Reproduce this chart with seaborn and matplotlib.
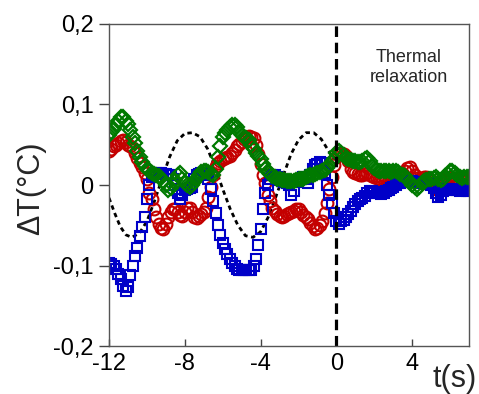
import numpy as np
import pandas as pd
import matplotlib
matplotlib.use("Agg")
import matplotlib.pyplot as plt
import seaborn as sns

# grille d'echantillonnage (s) : -12 -> 7 par pas de 0.125 s
t = np.round(np.arange(-12.0, 7.0625, 0.125), 3)

# une ligne = une seconde (8 valeurs)
dT_red = [
    0.042, 0.045, 0.048, 0.050, 0.052, 0.055, 0.056, 0.053,
    0.050, 0.049, 0.046, 0.040, 0.033, 0.027, 0.022, 0.015,
    0.007, -0.010, -0.018, -0.030, -0.040, -0.048, -0.053, -0.055,
    -0.048, -0.040, -0.034, -0.030, -0.030, -0.034, -0.037, -0.038,
    -0.033, -0.028, -0.029, -0.034, -0.040, -0.041, -0.038, -0.036,
    -0.034, -0.028, -0.015, -0.002, 0.012, 0.023, 0.027, 0.030,
    0.032, 0.033, 0.035, 0.036, 0.040, 0.044, 0.048, 0.051,
    0.054, 0.057, 0.060, 0.061, 0.060, 0.058, 0.050, 0.038,
    0.026, 0.012, 0.002, -0.012, -0.020, -0.028, -0.032, -0.036,
    -0.039, -0.040, -0.038, -0.036, -0.035, -0.034, -0.032, -0.030,
    -0.030, -0.033, -0.037, -0.040, -0.042, -0.047, -0.051, -0.055,
    -0.053, -0.050, -0.045, -0.035, -0.022, -0.005, 0.010, 0.025,
    0.035, 0.039, 0.040, 0.039, 0.036, 0.030, 0.020, 0.016,
    0.015, 0.014, 0.013, 0.012, 0.014, 0.015, 0.013, 0.011,
    0.010, 0.009, 0.008, 0.010, 0.011, 0.009, 0.008, 0.009,
    0.010, 0.011, 0.012, 0.013, 0.014, 0.017, 0.021, 0.022,
    0.018, 0.012, 0.009, 0.008, 0.009, 0.010, 0.010, 0.008,
    0.006, 0.002, -0.005, 0.000, 0.005, 0.007, 0.008, 0.009,
    0.010, 0.009, 0.008, 0.009, 0.010, 0.009, 0.008, 0.008,
    0.009]

dT_blue = [
    -0.097, -0.098, -0.100, -0.104, -0.110, -0.117, -0.125, -0.132,
    -0.127, -0.112, -0.100, -0.088, -0.078, -0.063, -0.052, -0.040,
    -0.018, 0.000, 0.010, 0.014, 0.015, 0.015, 0.015, 0.014,
    0.014, 0.013, 0.012, 0.008, 0.000, -0.010, -0.017, -0.012,
    -0.006, -0.005, -0.004, -0.002, 0.008, 0.012, 0.014, 0.015,
    0.015, 0.013, 0.008, -0.005, -0.020, -0.035, -0.050, -0.062,
    -0.072, -0.080, -0.086, -0.092, -0.097, -0.101, -0.104, -0.105,
    -0.106, -0.106, -0.106, -0.105, -0.105, -0.100, -0.092, -0.075,
    -0.055, -0.030, -0.010, 0.000, 0.008, 0.012, 0.013, 0.010,
    0.006, 0.005, 0.004, 0.003, 0.000, -0.012, -0.008, 0.004,
    0.006, 0.008, 0.010, 0.008, 0.002, 0.012, 0.020, 0.025,
    0.026, 0.028, 0.027, 0.015, 0.000, -0.012, -0.022, -0.035,
    -0.045, -0.048, -0.045, -0.043, -0.040, -0.036, -0.032, -0.027,
    -0.024, -0.020, -0.018, -0.016, -0.014, -0.010, -0.008, -0.008,
    -0.009, -0.010, -0.010, -0.011, -0.010, -0.008, -0.006, -0.004,
    -0.002, 0.000, 0.002, 0.003, 0.004, 0.005, 0.004, 0.005,
    0.005, 0.004, 0.004, 0.003, 0.004, 0.004, 0.003, 0.002,
    0.000, -0.004, -0.010, -0.015, -0.012, -0.007, -0.005, -0.005,
    -0.006, -0.006, -0.005, -0.006, -0.007, -0.006, -0.006, -0.007,
    -0.007]

dT_green = [
    0.062, 0.066, 0.070, 0.075, 0.080, 0.084, 0.084, 0.080,
    0.076, 0.068, 0.060, 0.052, 0.042, 0.035, 0.028, 0.023,
    0.020, 0.017, 0.015, 0.014, 0.012, 0.011, 0.009, 0.005,
    0.000, -0.006, -0.004, 0.000, 0.006, 0.012, 0.015, 0.008,
    0.002, 0.000, -0.002, 0.000, 0.004, 0.009, 0.013, 0.016,
    0.018, 0.018, 0.016, 0.014, 0.013, 0.020, 0.035, 0.048,
    0.060, 0.064, 0.068, 0.072, 0.074, 0.075, 0.072, 0.066,
    0.062, 0.060, 0.058, 0.056, 0.050, 0.045, 0.040, 0.036,
    0.032, 0.026, 0.020, 0.017, 0.014, 0.011, 0.010, 0.008,
    0.007, 0.006, 0.006, 0.005, 0.005, 0.005, 0.005, 0.006,
    0.007, 0.008, 0.008, 0.010, 0.011, 0.012, 0.013, 0.014,
    0.015, 0.016, 0.018, 0.019, 0.021, 0.025, 0.028, 0.032,
    0.040, 0.042, 0.040, 0.037, 0.034, 0.032, 0.031, 0.030,
    0.030, 0.029, 0.028, 0.030, 0.032, 0.034, 0.030, 0.024,
    0.021, 0.019, 0.018, 0.018, 0.017, 0.018, 0.017, 0.016,
    0.017, 0.018, 0.016, 0.014, 0.012, 0.011, 0.008, 0.004,
    0.000, -0.003, -0.005, -0.002, 0.002, 0.005, 0.006, 0.007,
    0.008, 0.009, 0.010, 0.008, 0.006, 0.008, 0.011, 0.014,
    0.017, 0.018, 0.015, 0.012, 0.010, 0.009, 0.010, 0.010,
    0.010]

# excitation (pointilles)
t_exc = [-12.0, -11.7, -11.4, -11.1, -10.8, -10.4, -10.0, -9.6, -9.2, -8.8,
         -8.4, -8.0, -7.6, -7.2, -6.8, -6.4, -6.0, -5.6, -5.2, -4.8,
         -4.4, -4.0, -3.6, -3.2, -2.8, -2.4, -2.0, -1.6, -1.2, -0.8,
         -0.4, -0.15]
exc = [-0.016, -0.035, -0.052, -0.062, -0.065, -0.060, -0.045, -0.020, 0.008, 0.035,
       0.055, 0.064, 0.065, 0.060, 0.045, 0.022, -0.005, -0.030, -0.050, -0.063,
       -0.065, -0.058, -0.040, -0.015, 0.012, 0.038, 0.056, 0.065, 0.065, 0.057,
       0.042, 0.032]

xticks = [-12, -8, -4, 0, 4]
yticks = [-0.2, -0.1, 0, 0.1, 0.2]
ytick_labels = ['-0,2', '-0,1', '0', '0,1', '0,2']

sns.set_style("white")
plt.rcParams['font.family'] = ['Liberation Sans', 'DejaVu Sans']

fig = plt.figure(figsize=(4.79, 3.94), dpi=100)
ax = fig.add_axes([0.2276, 0.1218, 0.7516, 0.8173])

df = pd.DataFrame({'t': t, 'red': dT_red, 'blue': dT_blue, 'green': dT_green})

sns.lineplot(x=t_exc, y=exc, ax=ax, color='black', linewidth=2.0,
             linestyle=(0, (1.6, 1.3)), estimator=None, legend=False)

sns.lineplot(data=df, x='t', y='red', ax=ax, estimator=None, legend=False,
             linestyle='', marker='o', markersize=8.5, markerfacecolor='none',
             markeredgecolor='#c40000', markeredgewidth=1.5)
sns.lineplot(data=df, x='t', y='blue', ax=ax, estimator=None, legend=False,
             linestyle='', marker='s', markersize=7.5, markerfacecolor='none',
             markeredgecolor='#0000c8', markeredgewidth=1.5)
sns.lineplot(data=df, x='t', y='green', ax=ax, estimator=None, legend=False,
             linestyle='', marker='D', markersize=7, markerfacecolor='none',
             markeredgecolor='#007a00', markeredgewidth=1.6)

ax.axvline(0, color='black', linewidth=2.3, linestyle=(0, (3.3, 1.8)))

ax.text(3.8, 0.146, "Thermal\nrelaxation", ha='center', va='center', fontsize=13)

ax.set_xlim(-12, 7)
ax.set_ylim(-0.2, 0.2)
ax.set_xticks(xticks)
ax.set_xticklabels([str(v) for v in xticks])
ax.set_yticks(yticks)
ax.set_yticklabels(ytick_labels)
ax.tick_params(axis='x', direction='in', length=5, width=1, pad=5, labelsize=17,
               bottom=True, colors='#444444', labelcolor='black')
ax.tick_params(axis='y', direction='out', length=7, width=1, pad=4, labelsize=17,
               left=True, colors='#444444', labelcolor='black')

for s in ax.spines.values():
    s.set_color('#555555')
    s.set_linewidth(1)

ax.set_ylabel("ΔT(°C)", fontsize=22)
ax.yaxis.set_label_coords(-0.175, 0.49)
ax.set_xlabel("t(s)", fontsize=22)
ax.xaxis.set_label_coords(0.961, -0.055)

fig.savefig("out.png", dpi=100)
